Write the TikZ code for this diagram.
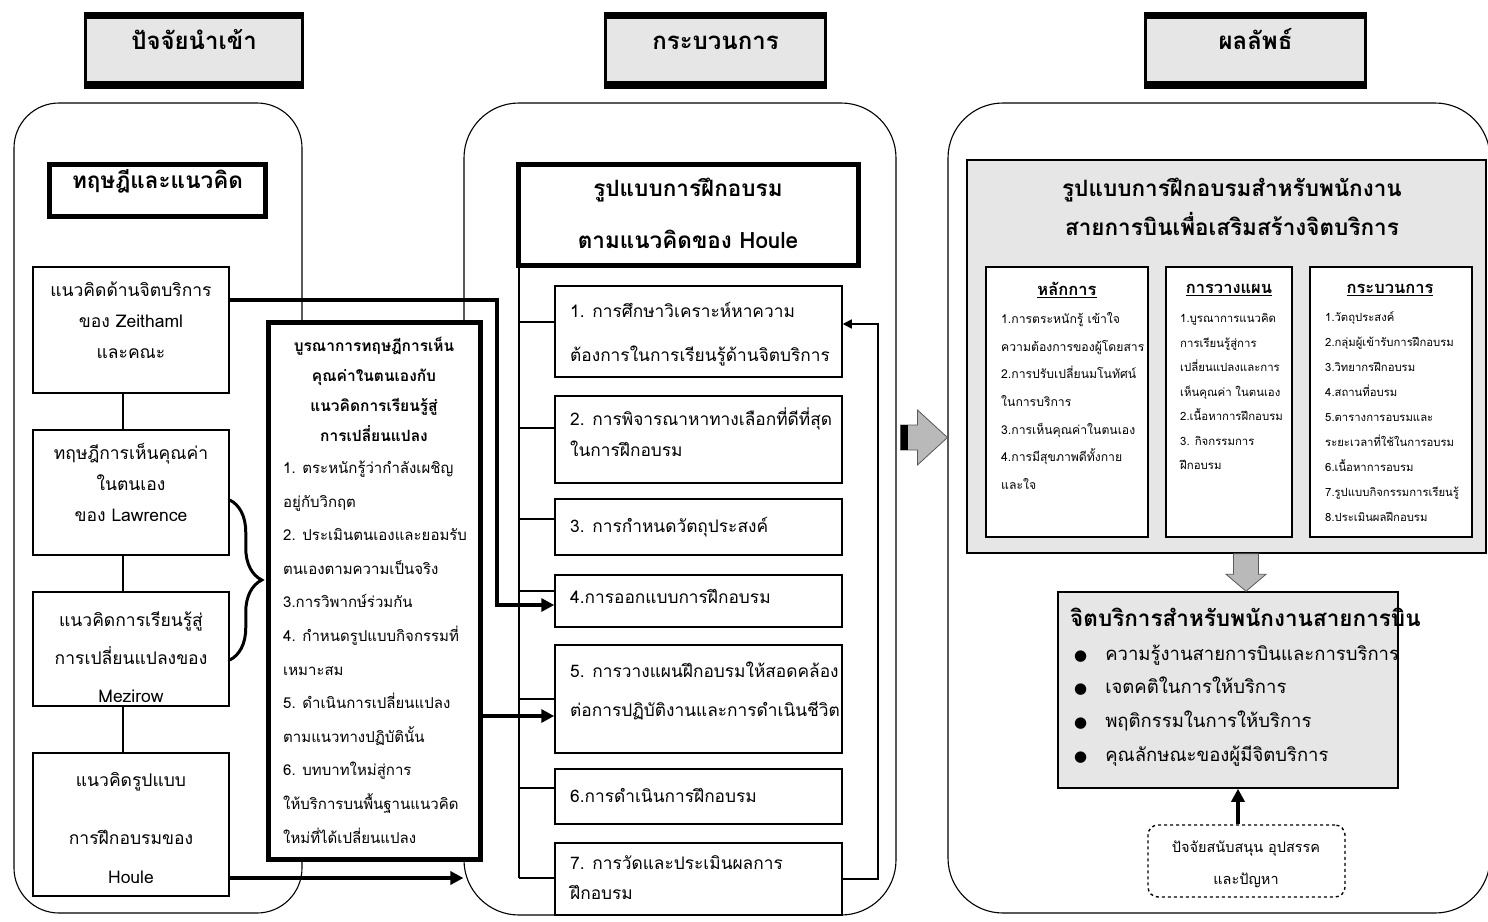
\documentclass[tikz,border=0pt]{standalone}
\usepackage{fontspec}
\setmainfont[Script=Thai]{Loma}
\newfontfamily\symfont{DejaVu Sans}
\usetikzlibrary{arrows.meta,fit,decorations.pathreplacing,calc}
\definecolor{panel}{HTML}{E6E6E6}
\newcommand\fs[2]{\fontsize{#1}{#2}\selectfont}

\begin{document}
\begin{tikzpicture}[x=1pt,y=-1pt,
  frame/.style={draw=black, line width=1.5pt, inner sep=0pt},
  box/.style={frame, fill=white},
  heavybox/.style={draw=black, line width=5.5pt, fill=white, inner sep=0pt},
  region/.style={draw=black, line width=1.1pt, rounded corners=#1, inner sep=0pt},
  txt/.style={inner sep=0pt, align=left},
  ctxt/.style={inner sep=0pt, align=center},
  link/.style={draw=black, line width=1.4pt},
  flow/.style={draw=black, line width=3.6pt, -{Triangle[length=13pt,width=13pt]}},
  back/.style={draw=black, line width=1.6pt, -{Triangle[length=9pt,width=9pt]}},
  block/.style={fill=gray!55, draw=black!65, line width=0.8pt},
]
\useasboundingbox[fill=white] (0,0) rectangle (1488,921);

% ---------- column headings ----------
\foreach \name/\xa/\xb/\label in {hin/84/304/ปัจจัยนำเข้า, hproc/604/827/กระบวนการ, hout/1144/1367/ผลลัพธ์}{
  \node[fill=black, inner sep=0pt, fit={(\xa,12) (\xb,89)}] (\name) {};
  \node[fill=panel, inner sep=0pt, font=\bfseries\fs{24}{28},
        fit={(\xa+3,19) (\xb-3,81)}] (\name-t) {\label};
}

% ---------- the three rounded regions ----------
\node[region=45pt, fit={(14,103) (302,913)}] (inputs) {};
\node[region=55pt, fit={(464,103) (896,915)}] (process) {};
\node[region=55pt, fit={(948,103) (1490,913)}] (outputs) {};

% ---------- input column ----------
\node[heavybox, font=\bfseries\fs{22.5}{26}, fit={(49.5,164.5) (265.5,216.5)}] (theory) {ทฤษฎีและแนวคิด};

\node[box, fit={(33,267) (229,393)}] (A) {};
\node[box, fit={(33,430) (229,555)}] (B) {};
\node[box, fit={(33,592) (229,706)}] (C) {};
\node[box, fit={(33,753) (229,896)}] (D) {};

\draw[link] ([xshift=-8pt]A.south) -- ([xshift=-8pt]B.north);
\draw[link] ([xshift=-8pt]B.south) -- ([xshift=-8pt]C.north);
\draw[link] ([xshift=-8pt]C.south) -- ([xshift=-8pt]D.north);

\node[ctxt, font=\fs{17.5}{31}] (A-t) at (131,320) {แนวคิดด้านจิตบริการ\\ของ Zeithaml\\และคณะ};
\node[ctxt, font=\fs{17.5}{31}] (B-t) at (131,482) {ทฤษฎีการเห็นคุณค่า\\ในตนเอง\\ของ Lawrence};
\node[ctxt, font=\fs{17.5}{38}] (C-t) at (131,657) {แนวคิดการเรียนรู้สู่\\การเปลี่ยนแปลงของ\\Mezirow};
\node[ctxt, font=\fs{17.5}{39}] (D-t) at (131,828.5) {แนวคิดรูปแบบ\\[19pt]การฝึกอบรมของ\\Houle};

% brace gathering the two theories
\draw[line width=3pt, decorate, decoration={brace, amplitude=32pt}]
  (B.east |- 0,500) -- (C.east |- 0,660);

% ---------- process column ----------
\draw[link] (519,268) -- (519,878);
\foreach \yt in {322, 428, 519, 591, 699, 788, 878}{
  \draw[link] (519,\yt) -- (555,\yt);
}

\node[heavybox, fit={(518.5,164.5) (858.5,265.5)}] (houle) {};
\node[ctxt, font=\bfseries\fs{22.5}{52}] (houle-t) at (688,213) {รูปแบบการฝึกอบรม\\ตามแนวคิดของ Houle};

\node[box, fit={(555,286) (842,377)}] (b1) {};
\node[box, fit={(555,396) (842,483)}] (b2) {};
\node[box, fit={(555,499) (842,555)}] (b3) {};
\node[box, fit={(555,575) (842,627)}] (b4) {};
\node[box, fit={(555,645) (842,753)}] (b5) {};
\node[box, fit={(555,769) (842,824)}] (b6) {};
\node[box, fit={(555,843) (842,915)}] (b7) {};

\node[txt, anchor=west, font=\fs{17.3}{44}] (b1-t) at (570,334) {1. การศึกษาวิเคราะห์หาความ\\ต้องการในการเรียนรู้ด้านจิตบริการ};
\node[txt, anchor=west, font=\fs{17.3}{31}] (b2-t) at (570,432.5) {2. การพิจารณาหาทางเลือกที่ดีที่สุด\\ในการฝึกอบรม};
\node[txt, anchor=west, font=\fs{17.3}{31}] (b3-t) at (570,527) {3. การกำหนดวัตถุประสงค์};
\node[txt, anchor=west, font=\fs{17.3}{31}] (b4-t) at (570,596) {4.การออกแบบการฝึกอบรม};
\node[txt, anchor=west, font=\fs{17.3}{39}] (b5-t) at (570,690.5) {5. การวางแผนฝึกอบรมให้สอดคล้อง\\ต่อการปฏิบัติงานและการดำเนินชีวิต};
\node[txt, anchor=west, font=\fs{17.3}{31}] (b6-t) at (570,795) {6.การดำเนินการฝึกอบรม};
\node[txt, anchor=west, font=\fs{17.3}{30}] (b7-t) at (570,878) {7. การวัดและประเมินผลการ\\ฝึกอบรม};

% feedback from evaluation to needs analysis
\draw[back] (b7.east) -- (878,879) -- (878,324) -- (b1.east |- 0,324);

% ---------- integration box ----------
\node[heavybox, fit={(268.5,322.5) (480.5,859.5)}] (integ) {};
\node[ctxt, font=\bfseries\fs{15.5}{30}] (integ-h) at (374,389) {บูรณาการทฤษฎีการเห็น\\คุณค่าในตนเองกับ\\แนวคิดการเรียนรู้สู่\\การเปลี่ยนแปลง};
\node[txt, anchor=west, font=\fs{15}{33.6}] (integ-t) at (283,652) {1. ตระหนักรู้ว่ากำลังเผชิญ\\อยู่กับวิกฤต\\2. ประเมินตนเองและยอมรับ\\ตนเองตามความเป็นจริง\\3.การวิพากษ์ร่วมกัน\\4. กำหนดรูปแบบกิจกรรมที่\\เหมาะสม\\5. ดำเนินการเปลี่ยนแปลง\\ตามแนวทางปฏิบัตินั้น\\6. บทบาทใหม่สู่การ\\ให้บริการบนพื้นฐานแนวคิด\\ใหม่ที่ได้เปลี่ยนแปลง};

% ---------- flows into the process column ----------
\draw[flow] (A.east |- 0,300) -- (497,300) -- (497,605) -- (b4.west |- 0,605);
\draw[flow] (integ.east |- 0,716) -- (b5.west |- 0,716);
\draw[flow] (D.east |- 0,878) -- (process.west |- 0,878);

% ---------- block arrow from process to outputs ----------
\coordinate (ga1) at (process.east |- 0,437.5);
\coordinate (ga2) at (outputs.west |- 0,437.5);
\draw[block] ($(ga1)+(4,-12.5)$) -- ($(ga2)+(-30,-12.5)$) -- ($(ga2)+(-30,-27.5)$) -- (ga2)
  -- ($(ga2)+(-30,27.5)$) -- ($(ga2)+(-30,12.5)$) -- ($(ga1)+(4,12.5)$) -- cycle;
\fill[black] ($(ga1)+(4,-12.5)$) rectangle ($(ga1)+(11,12.5)$);

% ---------- output column ----------
\node[frame, fill=panel, fit={(967,160) (1486,553)}] (model) {};
\node[ctxt, font=\bfseries\fs{22.5}{39}] (model-t) at (1232,206.5) {รูปแบบการฝึกอบรมสำหรับพนักงาน\\สายการบินเพื่อเสริมสร้างจิตบริการ};

\node[box, fit={(986,267) (1148,537)}] (s1) {};
\node[box, fit={(1166,267) (1292,537)}] (s2) {};
\node[box, fit={(1310,267) (1472,537)}] (s3) {};

\node[ctxt, font=\bfseries\fs{16.5}{18}] (s1-h) at (1067,290) {\underline{หลักการ}};
\node[ctxt, font=\bfseries\fs{16.5}{18}] (s2-h) at (1229,290) {\underline{การวางแผน}};
\node[ctxt, font=\bfseries\fs{16.5}{18}] (s3-h) at (1390,290) {\underline{กระบวนการ}};

\node[txt, anchor=west, font=\fs{12.2}{27.7}] (s1-t) at (1001,401) {1.การตระหนักรู้ เข้าใจ\\ความต้องการของผู้โดยสาร\\2.การปรับเปลี่ยนมโนทัศน์\\ในการบริการ\\3.การเห็นคุณค่าในตนเอง\\4.การมีสุขภาพดีทั้งกาย\\และใจ};
\node[txt, anchor=west, font=\fs{11.4}{24.5}] (s2-t) at (1180,391.5) {1.บูรณาการแนวคิด\\การเรียนรู้สู่การ\\เปลี่ยนแปลงและการ\\เห็นคุณค่า ในตนเอง\\2.เนื้อหาการฝึกอบรม\\3. กิจกรรมการ\\ฝึกอบรม};
\node[txt, anchor=west, font=\fs{11.3}{24.9}] (s3-t) at (1325,416.5) {1.วัตถุประสงค์\\2.กลุ่มผู้เข้ารับการฝึกอบรม\\3.วิทยากรฝึกอบรม\\4.สถานที่อบรม\\5.ตารางการอบรมและ\\ระยะเวลาที่ใช้ในการอบรม\\6.เนื้อหาการอบรม\\7.รูปแบบกิจกรรมการเรียนรู้\\8.ประเมินผลฝึกอบรม};

\node[frame, fill=panel, fit={(1058,592) (1398,788)}] (spirit) {};
\node[txt, anchor=west, font=\bfseries\fs{22.5}{26}] (spirit-h) at (1070,617) {จิตบริการสำหรับพนักงานสายการบิน};
\node[txt, anchor=west, font=\fs{18.5}{33.7}] (spirit-t) at (1074,705.5) {{\symfont\fs{15}{33.7}●}\hspace{18pt}ความรู้งานสายการบินและการบริการ\\{\symfont\fs{15}{33.7}●}\hspace{18pt}เจตคติในการให้บริการ\\{\symfont\fs{15}{33.7}●}\hspace{18pt}พฤติกรรมในการให้บริการ\\{\symfont\fs{15}{33.7}●}\hspace{18pt}คุณลักษณะของผู้มีจิตบริการ};

% block arrow from the model down to service mind
\coordinate (da1) at (model.south -| 1246,0);
\coordinate (da2) at (spirit.north -| 1246,0);
\draw[block] ($(da1)+(-12.5,0)$) -- ($(da2)+(-12.5,-17)$) -- ($(da2)+(-20,-17)$) -- (da2)
  -- ($(da2)+(20,-17)$) -- ($(da2)+(12.5,-17)$) -- ($(da1)+(12.5,0)$) -- cycle;

\node[draw=black, dashed, line width=1.4pt, rounded corners=10pt, inner sep=0pt,
      fit={(1148,825) (1345,897)}] (support) {};
\node[ctxt, font=\fs{14.5}{32}] (support-t) at (1246,864) {ปัจจัยสนับสนุน อุปสรรค\\และปัญหา};
\draw[flow] ([xshift=-8.5pt]support.north) -- ([xshift=-8.5pt]support.north |- spirit.south);

\end{tikzpicture}
\end{document}
